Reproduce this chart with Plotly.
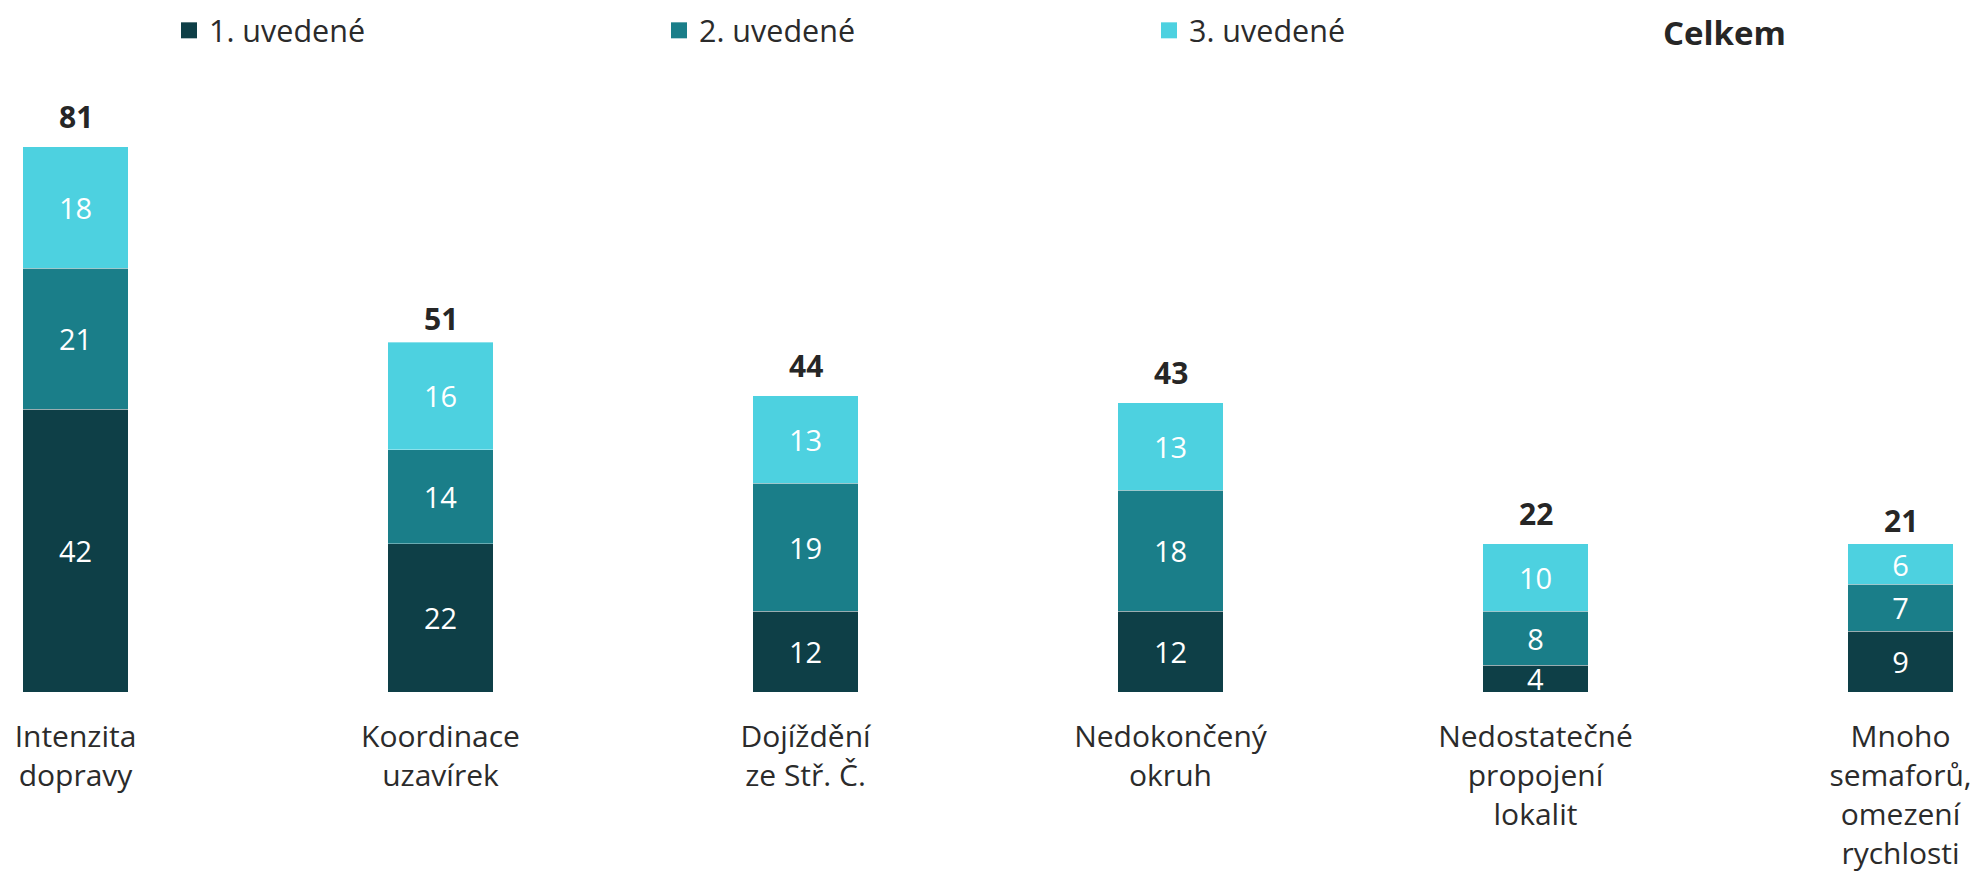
import plotly.graph_objects as go

categories = ["Intenzita<br>dopravy", "Koordinace<br>uzavírek", "Dojíždění<br>ze Stř. Č.",
              "Nedokončený<br>okruh", "Nedostatečné<br>propojení<br>lokalit",
              "Mnoho<br>semaforů,<br>omezení<br>rychlosti"]
first = [42, 22, 12, 12, 4, 9]
second = [21, 14, 19, 18, 8, 7]
third = [18, 16, 13, 13, 10, 6]
totals = [81, 51, 44, 43, 22, 21]
series_names = ["1. uvedené", "2. uvedené", "3. uvedené"]
colors = ["#0e3f47", "#1a7e89", "#4dd1e0"]

FONT = "Open Sans"
x = list(range(len(categories)))

# page body has an 8px default margin; layout positions compensate for it
PLOT_H = 684
PX_PER_UNIT = 6.73
X0 = 67.5
STEP = 365

fig = go.Figure()
for name, vals, col in zip(series_names, [first, second, third], colors):
    fig.add_trace(go.Bar(
        x=x, y=vals, name=name,
        marker=dict(color=col, line=dict(color="rgba(255,255,255,0.35)", width=1)),
        width=0.2877, text=[str(v) for v in vals], textposition="inside",
        insidetextanchor="middle", constraintext="none", textangle=0,
        textfont=dict(family=FONT, size=29, color="white"),
        showlegend=False, cliponaxis=True, hoverinfo="skip"))
    # legend proxy
    fig.add_trace(go.Scatter(
        x=[None], y=[None], mode="markers", name=name,
        marker=dict(symbol="square", size=20, color=col)))

for i, t in enumerate(totals):
    fig.add_annotation(x=i, y=t, text=f"<b>{t}</b>", showarrow=False,
                       yanchor="bottom", yshift=8,
                       font=dict(family=FONT, size=30, color="#262626"))

fig.add_annotation(xref="paper", yref="paper", x=1716 / 1985, xanchor="center",
                   y=1, yanchor="top", yshift=0, text="<b>Celkem</b>", showarrow=False,
                   font=dict(family=FONT, size=33, color="#262626"))

fig.update_layout(
    width=1985, height=886,
    margin=dict(l=0, r=0, t=0, b=886 - PLOT_H, autoexpand=False),
    barmode="stack",
    plot_bgcolor="white", paper_bgcolor="white",
    font=dict(family=FONT, size=28, color="#2b2b2b"),
    legend=dict(orientation="h", traceorder="normal",
                x=161 / 1985, xanchor="left", y=1 + 4 / PLOT_H, yanchor="top",
                entrywidth=445, entrywidthmode="pixels",
                font=dict(family=FONT, size=30.5, color="#2b2b2b"),
                bgcolor="rgba(0,0,0,0)"),
    xaxis=dict(range=[-X0 / STEP, (1985 - X0) / STEP], tickmode="array",
               tickvals=x, ticktext=categories, showgrid=False, zeroline=False,
               showline=False, ticks="", automargin=False, ticklabelstandoff=24,
               tickfont=dict(family=FONT, size=30, color="#2b2b2b")),
    yaxis=dict(range=[0, PLOT_H / PX_PER_UNIT], visible=False, showgrid=False,
               zeroline=False, automargin=False),
)

fig.write_html("out.html")
